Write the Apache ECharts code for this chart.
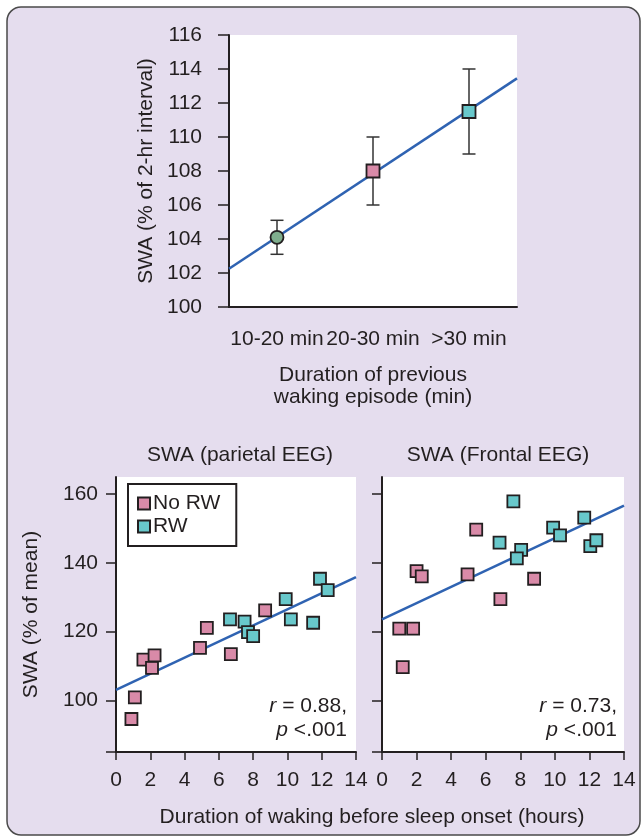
<!DOCTYPE html>
<html>
<head>
<meta charset="utf-8">
<script src="https://cdn.jsdelivr.net/npm/echarts@6/dist/echarts.min.js"></script>
<style>
  html, body { margin: 0; padding: 0; background: #fff; }
  #chart { width: 642px; height: 838px; }
</style>
</head>
<body>
<div id="chart"></div>
<script>
// ---- Upper panel: SWA by duration of previous waking episode ----
const categories = ['10-20 min', '20-30 min', '>30 min'];
const swaMean = [104.1, 108.0, 111.5];
const swaLow = [103.1, 106.0, 109.0];
const swaHigh = [105.1, 110.0, 114.0];
// fitted line at the left and right edge of the category band
const topFit = [102.25, 113.45];
const topTicks = [100, 102, 104, 106, 108, 110, 112, 114, 116];

// ---- Lower panels: SWA vs. hours awake before sleep onset ----
const hourTicks = [0, 2, 4, 6, 8, 10, 12, 14];
const swaTicks = [100, 120, 140, 160];

// parietal EEG
const parNoRwHours = [0.9, 1.1, 1.6, 2.1, 2.25, 4.9, 5.3, 6.7, 8.7];
const parNoRwSwa = [94.6, 100.9, 111.9, 109.5, 113.1, 115.3, 121.1, 113.5, 126.2];
const parRwHours = [6.65, 7.5, 7.7, 8.0, 9.9, 10.2, 11.5, 11.9, 12.35];
const parRwSwa = [123.6, 122.9, 119.9, 118.7, 129.5, 123.6, 122.6, 135.4, 132.1];
const parFit = [103.1, 135.9];   // at 0 h and 14 h

// frontal EEG
const froNoRwHours = [1.0, 1.8, 1.2, 2.0, 2.3, 4.95, 5.45, 6.85, 8.8];
const froNoRwSwa = [120.9, 120.9, 109.7, 137.6, 136.1, 136.7, 149.7, 129.5, 135.4];
const froRwHours = [6.8, 7.6, 8.05, 7.8, 9.9, 10.3, 11.7, 12.05, 12.4];
const froRwSwa = [145.9, 157.9, 143.8, 141.3, 150.3, 148.0, 153.2, 144.9, 146.6];
const froFit = [123.6, 156.7];

const FONT = "'Liberation Sans', Arial, Helvetica, sans-serif";
const FS = 21;
const INK = '#231f20';
const PINK = '#d98aa8';
const TEAL = '#68c8cb';
const GREEN = '#7fae8d';
const FIT = '#2f63b2';
const topMarkerColors = [GREEN, PINK, TEAL];
const topMarkerShapes = ['circle', 'rect', 'rect'];

const zip = (xs, ys) => xs.map((x, i) => [x, ys[i]]);

const axisLineStyle = { lineStyle: { color: INK, width: 2 } };
const tickStyle = { lineStyle: { color: INK, width: 1.5 } };
const labelStyle = { color: INK, fontSize: FS, fontFamily: FONT };

function scatterSeries(name, xIdx, yIdx, data, color) {
  return {
    name, type: 'scatter', xAxisIndex: xIdx, yAxisIndex: yIdx,
    symbol: 'rect', symbolSize: 12, z: 5,
    itemStyle: { color, borderColor: INK, borderWidth: 1.8, opacity: 1 },
    data
  };
}

function fitSeries(xIdx, yIdx, data) {
  return {
    type: 'line', xAxisIndex: xIdx, yAxisIndex: yIdx, symbol: 'none', z: 3,
    silent: true, lineStyle: { color: FIT, width: 2.5 }, data
  };
}

function statText(x, r) {
  return {
    type: 'text', x, y: 718,
    style: {
      text: `{i|r} = ${r},\n{i|p} <.001`, fill: INK, textAlign: 'right',
      textVerticalAlign: 'middle', lineHeight: 24, font: `${FS}px ${FONT}`,
      rich: { i: { fontStyle: 'italic', fontSize: FS, fontFamily: FONT, fill: INK } }
    }
  };
}

const chart = echarts.init(document.getElementById('chart'), null, { renderer: 'canvas' });

const option = {
  backgroundColor: '#ffffff',
  animation: false,
  textStyle: { fontFamily: FONT },
  title: [
    { text: 'SWA (parietal EEG)', left: 235, top: 440, textAlign: 'center',
      textStyle: { fontSize: FS, fontWeight: 'normal', color: INK, fontFamily: FONT } },
    { text: 'SWA (Frontal EEG)', left: 493, top: 440, textAlign: 'center',
      textStyle: { fontSize: FS, fontWeight: 'normal', color: INK, fontFamily: FONT } }
  ],
  graphic: [
    { type: 'rect', z: -100, shape: { x: 7, y: 7, width: 633, height: 828, r: 14 },
      style: { fill: '#e5ddee', stroke: '#4a4a4a', lineWidth: 1.5 } },
    { type: 'text', x: 372, y: 817,
      style: { text: 'Duration of waking before sleep onset (hours)', fill: INK,
               font: `${FS}px ${FONT}`, textAlign: 'center', textVerticalAlign: 'middle' } },
    statText(347, '0.88'),
    statText(617, '0.73')
  ],
  legend: {
    data: ['No RW', 'RW'],
    orient: 'vertical',
    left: 128, top: 484,
    padding: [9, 16, 9, 9],
    itemWidth: 12, itemHeight: 12, itemGap: 2,
    backgroundColor: '#fff',
    borderColor: INK, borderWidth: 2,
    textStyle: { fontSize: FS, color: INK, fontFamily: FONT, padding: [0, 0, 0, -2] },
    selectedMode: false
  },
  grid: [
    { left: 229, top: 35, width: 288, height: 272, show: true, backgroundColor: '#fff', borderWidth: 0 },
    { left: 116, top: 477, width: 240, height: 275, show: true, backgroundColor: '#fff', borderWidth: 0 },
    { left: 382, top: 477, width: 242, height: 275, show: true, backgroundColor: '#fff', borderWidth: 0 }
  ],
  xAxis: [
    { gridIndex: 0, type: 'category', data: categories, boundaryGap: true,
      axisLine: axisLineStyle,
      axisTick: { alignWithLabel: true, length: 11, ...tickStyle },
      axisLabel: { ...labelStyle, margin: 22, interval: 0, hideOverlap: false },
      splitLine: { show: false },
      name: 'Duration of previous\nwaking episode (min)', nameLocation: 'middle', nameGap: 57,
      nameTextStyle: { ...labelStyle, lineHeight: 22 } },
    { gridIndex: 0, type: 'value', min: 0, max: 3, show: false },
    { gridIndex: 1, type: 'value', min: 0, max: 14, interval: 2,
      axisLine: axisLineStyle, axisTick: { length: 8, ...tickStyle },
      axisLabel: { ...labelStyle, margin: 18 }, splitLine: { show: false } },
    { gridIndex: 2, type: 'value', min: 0, max: 14, interval: 2,
      axisLine: axisLineStyle, axisTick: { length: 8, ...tickStyle },
      axisLabel: { ...labelStyle, margin: 18 }, splitLine: { show: false } }
  ],
  yAxis: [
    { gridIndex: 0, type: 'value', min: 100, max: 116, interval: 2,
      axisLine: { show: true, ...axisLineStyle }, axisTick: { show: true, length: 11, ...tickStyle },
      axisLabel: { ...labelStyle, margin: 27, customValues: topTicks }, splitLine: { show: false },
      name: 'SWA (% of 2-hr interval)', nameLocation: 'middle', nameRotate: 90, nameGap: 72,
      nameTextStyle: labelStyle },
    { gridIndex: 1, type: 'value', min: 85, max: 165,
      axisLine: { show: true, ...axisLineStyle },
      axisTick: { show: true, length: 10, customValues: [85].concat(swaTicks), ...tickStyle },
      axisLabel: { ...labelStyle, margin: 18, customValues: swaTicks }, splitLine: { show: false },
      name: 'SWA (% of mean)', nameLocation: 'middle', nameRotate: 90, nameGap: 74,
      nameTextStyle: labelStyle },
    { gridIndex: 2, type: 'value', min: 85, max: 165,
      axisLine: { show: true, ...axisLineStyle },
      axisTick: { show: true, length: 10, customValues: [85].concat(swaTicks), ...tickStyle },
      axisLabel: { show: false, customValues: swaTicks }, splitLine: { show: false } }
  ],
  series: [
    // upper panel
    fitSeries(1, 0, [[0, topFit[0]], [3, topFit[1]]]),
    {
      type: 'custom', xAxisIndex: 0, yAxisIndex: 0, z: 4, silent: true,
      data: categories.map((c, i) => [i, swaLow[i], swaHigh[i]]),
      encode: { x: 0, y: [1, 2] },
      renderItem(params, api) {
        const lo = api.coord([api.value(0), api.value(1)]);
        const hi = api.coord([api.value(0), api.value(2)]);
        const w = 6.5;
        const st = { stroke: '#333', lineWidth: 1.5 };
        return {
          type: 'group',
          children: [
            { type: 'line', shape: { x1: lo[0], y1: lo[1], x2: hi[0], y2: hi[1] }, style: st },
            { type: 'line', shape: { x1: hi[0] - w, y1: hi[1], x2: hi[0] + w, y2: hi[1] }, style: st },
            { type: 'line', shape: { x1: lo[0] - w, y1: lo[1], x2: lo[0] + w, y2: lo[1] }, style: st }
          ]
        };
      }
    },
    {
      type: 'scatter', xAxisIndex: 0, yAxisIndex: 0, z: 5, symbolSize: 13,
      data: swaMean.map((v, i) => ({
        value: [i, v], symbol: topMarkerShapes[i],
        itemStyle: { color: topMarkerColors[i], borderColor: INK, borderWidth: 1.8, opacity: 1 }
      }))
    },
    // parietal
    fitSeries(2, 1, [[0, parFit[0]], [14, parFit[1]]]),
    scatterSeries('No RW', 2, 1, zip(parNoRwHours, parNoRwSwa), PINK),
    scatterSeries('RW', 2, 1, zip(parRwHours, parRwSwa), TEAL),
    // frontal
    fitSeries(3, 2, [[0, froFit[0]], [14, froFit[1]]]),
    scatterSeries('No RW', 3, 2, zip(froNoRwHours, froNoRwSwa), PINK),
    scatterSeries('RW', 3, 2, zip(froRwHours, froRwSwa), TEAL)
  ]
};

chart.setOption(option);
</script>
</body>
</html>
